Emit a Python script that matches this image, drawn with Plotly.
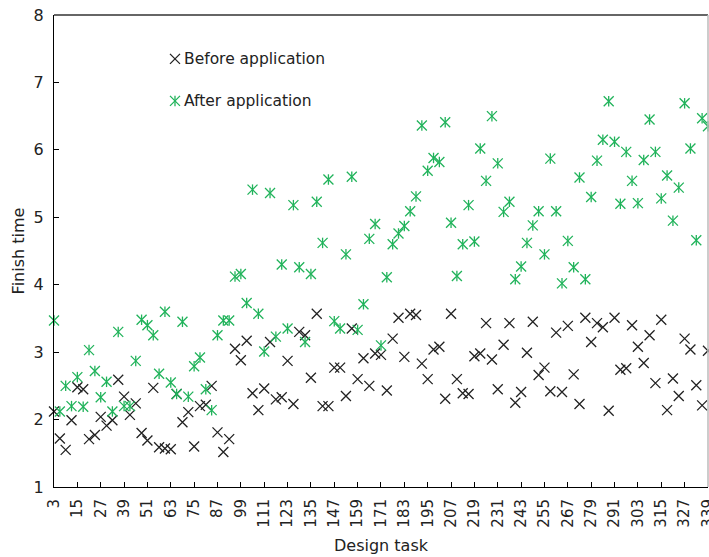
import plotly.graph_objects as go

# Design tasks (x categories, every third task)
design_task = list(range(3, 340, 3))

# Tick labels shown on the x axis
tick_labels = [3, 15, 27, 39, 51, 63, 75, 87, 99, 111, 123, 135, 147, 159, 171,
               183, 195, 207, 219, 231, 243, 255, 267, 279, 291, 303, 315, 327, 339]

# Finish time before the application
before_app = [
    2.12, 1.72, 1.55, 1.99, 2.48, 2.45, 1.71, 1.77, 2.04, 1.91,
    1.99, 2.59, 2.34, 2.07, 2.24, 1.80, 1.69, 2.47, 1.59, 1.57,
    1.56, 2.38, 1.96, 2.11, 1.60, 2.20, 2.22, 2.50, 1.81, 1.52,
    1.71, 3.05, 2.88, 3.17, 2.39, 2.14, 2.46, 3.15, 2.30, 2.33,
    2.87, 2.23, 3.30, 3.25, 2.62, 3.57, 2.20, 2.20, 2.77, 2.77,
    2.35, 3.35, 2.60, 2.91, 2.50, 2.98, 2.96, 2.43, 3.20, 3.51,
    2.93, 3.57, 3.55, 2.83, 2.60, 3.04, 3.08, 2.31, 3.57, 2.60,
    2.39, 2.38, 2.94, 2.98, 3.43, 2.89, 2.45, 3.11, 3.43, 2.25,
    2.41, 2.99, 3.45, 2.66, 2.77, 2.42, 3.29, 2.41, 3.39, 2.67,
    2.23, 3.51, 3.15, 3.43, 3.37, 2.13, 3.51, 2.74, 2.76, 3.40,
    3.08, 2.84, 3.25, 2.54, 3.48, 2.14, 2.61, 2.35, 3.20, 3.04,
    2.51, 2.21, 3.02,
]

# Finish time after the application
after_app = [
    3.47, 2.12, 2.50, 2.20, 2.63, 2.19, 3.03, 2.72, 2.33, 2.56,
    2.12, 3.30, 2.20, 2.20, 2.87, 3.48, 3.40, 3.25, 2.68, 3.60,
    2.55, 2.38, 3.45, 2.34, 2.79, 2.92, 2.45, 2.14, 3.25, 3.47,
    3.47, 4.12, 4.16, 3.73, 5.41, 3.57, 3.01, 5.36, 3.23, 4.30,
    3.35, 5.18, 4.26, 3.15, 4.16, 5.23, 4.62, 5.56, 3.46, 3.35,
    4.45, 5.60, 3.33, 3.71, 4.68, 4.90, 3.10, 4.11, 4.60, 4.76,
    4.87, 5.09, 5.31, 6.36, 5.69, 5.88, 5.82, 6.41, 4.92, 4.13,
    4.60, 5.18, 4.64, 6.02, 5.54, 6.50, 5.80, 5.08, 5.23, 4.08,
    4.27, 4.62, 4.88, 5.09, 4.45, 5.87, 5.09, 4.02, 4.65, 4.26,
    5.59, 4.08, 5.30, 5.84, 6.15, 6.72, 6.12, 5.20, 5.97, 5.54,
    5.21, 5.85, 6.45, 5.97, 5.28, 5.62, 4.95, 5.44, 6.69, 6.02,
    4.66, 6.47, 6.35,
]

series_names = ["Before application", "After application"]

BLACK = "#222222"
GREEN = "#21b35b"
FONT = "DejaVu Sans"


def cross(color, size=10):
    return dict(symbol="x-thin-open", size=size, color=color,
                line=dict(color=color, width=1.3))


def bar(color, size=7.5):
    return dict(symbol="line-ns-open", size=size, color=color,
                line=dict(color=color, width=1.3))


fig = go.Figure()

# Before: thin crosses
fig.add_trace(go.Scatter(x=design_task, y=before_app, mode="markers",
                         name=series_names[0], marker=cross(BLACK),
                         cliponaxis=False, showlegend=False))

# After: cross + vertical stroke (six-armed star)
fig.add_trace(go.Scatter(x=design_task, y=after_app, mode="markers",
                         name=series_names[1], marker=cross(GREEN),
                         cliponaxis=False, showlegend=False))
fig.add_trace(go.Scatter(x=design_task, y=after_app, mode="markers",
                         name=series_names[1], marker=bar(GREEN),
                         cliponaxis=False, showlegend=False, hoverinfo="skip"))

# Legend keys drawn on an overlay axis spanning the plot area (0..1)
key_x = [0.185, 0.185]
key_y = [0.907, 0.818]
fig.add_trace(go.Scatter(x=[key_x[0]], y=[key_y[0]], xaxis="x2", yaxis="y2",
                         mode="markers", marker=cross(BLACK), showlegend=False,
                         hoverinfo="skip"))
fig.add_trace(go.Scatter(x=[key_x[1]], y=[key_y[1]], xaxis="x2", yaxis="y2",
                         mode="markers", marker=cross(GREEN), showlegend=False,
                         hoverinfo="skip"))
fig.add_trace(go.Scatter(x=[key_x[1]], y=[key_y[1]], xaxis="x2", yaxis="y2",
                         mode="markers", marker=bar(GREEN), showlegend=False,
                         hoverinfo="skip"))
for name, kx, ky in zip(series_names, key_x, key_y):
    fig.add_annotation(x=kx + 0.011, y=ky, xref="x2", yref="y2", text=name,
                       showarrow=False, xanchor="left", yanchor="middle",
                       font=dict(family=FONT, size=15.5, color="#222"))

fig.update_layout(
    width=709, height=557,
    margin=dict(l=54, r=1, t=15, b=70),
    paper_bgcolor="white", plot_bgcolor="white",
    font=dict(family=FONT, size=15, color="#222"),
    showlegend=False,
    xaxis=dict(
        range=[3, 339.02], tickmode="array", tickvals=tick_labels,
        ticktext=[str(t) for t in tick_labels], tickangle=-90,
        ticks="inside", ticklen=5, tickcolor="#000", tickwidth=1,
        showline=True, linecolor="#000", linewidth=1,
        showgrid=False, zeroline=False, automargin=False,
        ticklabelstandoff=5, ticklabeloverflow="allow",
        tickfont=dict(family=FONT, size=15, color="#222"),
        title=dict(text="Design task", standoff=13,
                   font=dict(family=FONT, size=16, color="#222")),
    ),
    yaxis=dict(
        range=[1, 8], dtick=1, ticks="inside", ticklen=5, tickcolor="#000",
        showline=True, linecolor="#000", linewidth=1,
        showgrid=False, zeroline=False, automargin=False,
        ticklabelstandoff=6,
        tickfont=dict(family=FONT, size=16, color="#222"),
        title=dict(text="Finish time", standoff=5,
                   font=dict(family=FONT, size=16, color="#222")),
    ),
    xaxis2=dict(overlaying="x", range=[0, 1], visible=False, fixedrange=True),
    yaxis2=dict(overlaying="y", range=[0, 1], visible=False, fixedrange=True),
    shapes=[
        dict(type="line", xref="paper", yref="paper", x0=0, x1=1, y0=1, y1=1,
             line=dict(color="#333", width=1.5)),
        dict(type="line", xref="paper", yref="paper", x0=1, x1=1, y0=0, y1=1,
             line=dict(color="#bbb", width=1.5)),
    ],
)

fig.write_html("out.html")
